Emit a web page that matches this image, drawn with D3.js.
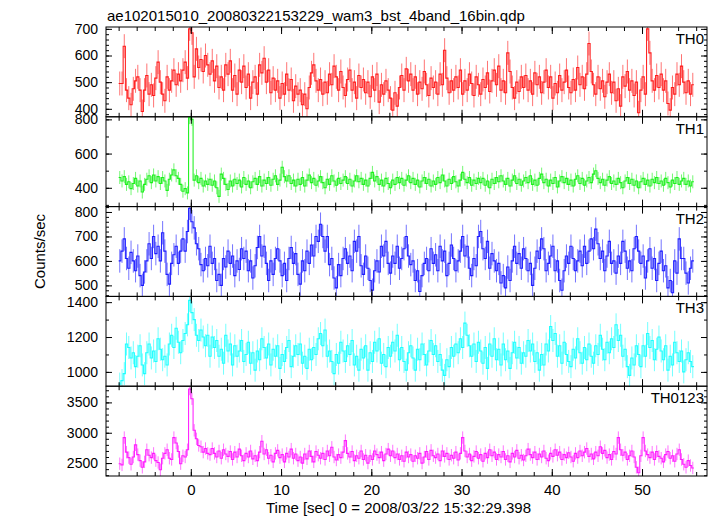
<!DOCTYPE html>
<html><head><meta charset="utf-8">
<script src="https://cdn.jsdelivr.net/npm/d3@7/dist/d3.min.js"></script>
<style>body{margin:0;background:#fff} text{font-family:"Liberation Sans",Arial,Helvetica,sans-serif;fill:#000}</style>
</head><body><svg id="c" width="717" height="516"></svg>
<script>
const titleText = "ae102015010_20080322153229_wam3_bst_4band_16bin.qdp";
const xTitle = "Time [sec] 0 = 2008/03/22 15:32:29.398";
const yTitle = "Counts/sec";
const panelNames = ["TH0", "TH1", "TH2", "TH3", "TH0123"];
const panelColors = ["#ff0000", "#00ee00", "#0000ff", "#00ffff", "#ff00ff"];
const tStart = -7.875, binWidth = 0.25;
const xTickValues = [0, 10, 20, 30, 40, 50];

const th0 = [
495,495,635,470,440,415,475,505,520,470,
390,470,525,455,490,450,515,575,500,455,
430,520,470,505,545,490,530,505,545,575,
515,700,685,520,625,555,585,540,600,565,
530,580,505,560,480,520,470,565,530,580,
470,525,455,545,500,560,480,530,440,500,
520,455,565,535,590,500,545,460,515,470,
505,440,495,455,530,470,510,430,485,455,
470,415,455,400,480,535,565,505,470,510,
455,500,460,530,490,560,520,470,540,480,
450,510,545,470,500,440,525,480,510,460,
500,445,520,470,530,425,490,455,505,470,
440,395,460,410,480,525,470,550,505,530,
470,520,455,500,475,540,490,450,515,480,
500,455,530,490,620,515,460,505,470,520,
480,545,455,505,470,530,495,450,520,490,
455,510,480,535,465,505,545,490,560,470,
505,460,610,540,480,440,500,465,520,480,
525,470,505,455,535,490,520,460,500,545,
480,520,440,495,460,525,470,500,545,480,
460,510,470,555,490,520,475,530,645,540,
490,455,520,475,505,445,500,530,460,500,
430,475,410,520,485,540,470,505,450,500,
385,470,520,455,700,610,505,470,525,480,
530,470,505,420,395,480,455,530,490,560,
500,460,505,455,490];

const th1 = [
460,440,465,420,435,395,425,455,410,440,
375,420,450,470,430,475,440,465,425,460,
440,385,450,475,505,470,455,420,380,395,
370,810,800,445,470,430,455,410,440,420,
450,415,440,400,350,480,455,420,390,440,
410,450,425,445,405,460,420,440,400,435,
455,420,465,410,445,425,460,415,450,470,
420,445,520,465,440,470,425,445,410,450,
420,460,410,445,475,430,455,415,440,465,
430,400,450,420,470,440,415,455,425,445,
465,425,450,410,440,470,435,455,420,445,
410,455,490,440,465,420,445,410,455,425,
400,445,420,460,430,455,415,445,470,430,
455,420,445,405,440,460,425,450,410,440,
420,460,430,475,440,410,450,425,465,435,
410,445,490,450,430,460,415,445,425,455,
430,455,415,440,400,450,425,460,435,470,
440,420,455,410,445,470,425,450,415,440,
460,430,470,420,445,415,455,480,430,450,
410,445,425,460,405,440,465,430,455,420,
445,410,450,470,425,455,415,440,460,430,
480,500,455,430,450,415,445,465,425,440,
420,455,430,400,440,460,425,450,415,440,
400,435,455,420,445,410,450,430,460,425,
440,415,455,430,405,445,425,460,420,440,
455,420,440,410,435];

const th2 = [
600,640,690,610,570,635,600,560,620,540,
500,555,600,670,610,700,630,660,600,715,
640,545,505,590,625,660,590,640,690,640,
720,815,760,735,670,650,585,560,610,580,
660,590,610,520,545,500,610,575,640,590,
620,540,600,565,650,610,640,560,600,530,
580,655,700,620,660,590,520,600,545,610,
650,600,540,590,520,610,655,590,630,545,
505,600,560,640,590,665,620,700,680,750,
700,640,700,585,610,530,490,585,540,610,
650,590,620,560,680,640,700,580,545,620,
570,520,480,560,600,555,660,620,680,590,
550,620,590,660,570,610,650,700,620,585,
600,520,560,475,540,590,610,560,650,590,
625,560,660,600,640,540,590,665,610,560,
600,640,700,620,660,570,540,610,580,700,
720,650,610,680,570,630,600,560,590,510,
540,490,575,520,600,660,590,630,570,650,
610,560,590,500,570,640,610,690,650,560,
590,620,660,560,600,520,480,560,620,590,
660,610,560,600,640,580,660,590,640,690,
650,730,670,610,640,560,620,680,590,600,
550,620,590,680,640,570,600,560,650,700,
640,590,620,530,600,650,570,610,520,590,
640,560,580,490,520,470,600,550,690,610,
610,550,510,570,600];

const th3 = [
930,950,990,1160,1140,1080,1110,1030,1090,1150,
1040,990,1110,1160,1080,1120,1060,1190,1130,1070,
1090,1040,1160,1210,1140,1250,1170,1110,1180,1220,
1270,1410,1340,1300,1210,1180,1240,1200,1150,1210,
1090,1200,1140,1180,1090,1130,1050,1210,1120,1160,
1040,1150,1090,1120,1180,1060,1100,1170,1050,1110,
1010,1120,1070,1190,1140,1080,1160,1040,1130,1090,
1150,1020,1100,1060,1140,1180,1030,1090,1150,1100,
1160,1050,1090,1020,1130,1070,1140,1100,1190,1220,
1150,1240,1090,1120,1060,990,1100,1050,1170,1120,
1060,1150,1100,1180,1040,1090,1010,1130,1080,1150,
1010,1110,1060,1170,1120,1190,1050,1100,1030,1140,
1090,1170,1120,1210,1070,1140,1060,1010,1110,1150,
1080,1010,1130,1070,1160,1100,1040,1120,1180,1100,
1150,1060,1100,1010,980,1070,1030,1140,1090,1160,
1110,1190,1140,1280,1210,1150,1090,1160,1060,1170,
1120,1050,1140,1020,1160,1090,1190,1070,1130,1040,
1160,1070,1120,1020,1110,1170,1080,1140,1050,1110,
1090,1180,1120,1160,1060,1110,1010,1100,1040,1160,
1120,1260,1180,1220,1090,1150,1050,1170,1100,1060,
1030,1130,1080,1190,1110,1050,1140,1070,1160,1090,
1050,1150,1100,1210,1130,1070,1170,1110,1190,1140,
1270,1180,1210,1090,1130,1030,980,1080,1040,1150,
1100,1030,1150,1090,1220,1140,1180,1070,1130,1200,
1120,1070,1150,1010,1090,1040,1170,1110,1060,1120,
1000,1070,1110,1060,1030];

const th0123 = [
2490,2470,2920,2680,2590,2480,2600,2800,2640,2540,
2430,2520,2720,2630,2590,2660,2540,2510,2390,2580,
2660,2720,2580,2560,2920,2830,2690,2490,2620,2600,
2720,3720,3560,3040,2900,2790,2770,2680,2740,2660,
2640,2740,2660,2600,2700,2580,2720,2650,2610,2690,
2560,2680,2600,2730,2620,2540,2660,2600,2700,2570,
2620,2540,2680,2860,2650,2720,2580,2630,2520,2660,
2710,2590,2640,2520,2660,2600,2730,2580,2650,2540,
2600,2500,2650,2570,2700,2610,2520,2690,2630,2580,
2660,2560,2700,2620,2760,2600,2550,2640,2590,2680,
2870,2660,2600,2690,2540,2620,2580,2700,2560,2630,
2500,2620,2560,2700,2640,2590,2680,2540,2650,2730,
2620,2700,2590,2650,2560,2620,2530,2680,2600,2640,
2530,2620,2580,2660,2500,2600,2690,2560,2710,2620,
2590,2650,2540,2700,2610,2660,2560,2630,2580,2680,
2550,2660,2920,2700,2600,2650,2540,2610,2690,2580,
2640,2530,2660,2590,2720,2620,2680,2560,2640,2600,
2690,2560,2620,2520,2660,2600,2710,2580,2630,2550,
2620,2730,2640,2590,2680,2560,2650,2600,2700,2580,
2540,2660,2610,2720,2630,2680,2560,2640,2590,2670,
2600,2530,2660,2590,2700,2620,2680,2740,2610,2650,
2570,2680,2620,2770,2660,2710,2590,2640,2560,2690,
2650,2920,2720,2630,2680,2560,2620,2700,2600,2430,
2340,2620,2920,2700,2640,2590,2680,2560,2690,2610,
2580,2520,2640,2690,2580,2620,2530,2650,2720,2560,
2480,2430,2540,2460,2420];

const seriesValues = [th0, th1, th2, th3, th0123];
const errors = [45, 38, 48, 66, 102];
const yDomains = [[370, 707], [290, 815], [455, 822], [918, 1433], [2287, 3767]];
const yMajorStep = [100, 200, 100, 200, 500];
const yMinorStep = [20, 100, 20, 100, 100];

const svg = d3.select("#c");
const pLeft = 106, pRight = 707, pTop = 27, pBottom = 476;
const nP = seriesValues.length;
const ph = (pBottom - pTop) / nP;
const x = d3.scaleLinear().domain([-9.4, 57.2]).range([pLeft, pRight]);

svg.append("text").attr("x", 107).attr("y", 21).attr("font-size", 15).text(titleText);

const defs = svg.append("defs");
seriesValues.forEach((vals, p) => {
  const y0 = pTop + p * ph, y1 = y0 + ph;
  const y = d3.scaleLinear().domain(yDomains[p]).range([y1, y0]);
  const g = svg.append("g");
  defs.append("clipPath").attr("id", "clip" + p).append("rect")
    .attr("x", pLeft).attr("y", y0).attr("width", pRight - pLeft).attr("height", ph);
  const dg = g.append("g").attr("clip-path", `url(#clip${p})`);
  const col = panelColors[p];
  const err = errors[p];
  dg.selectAll("line.err").data(vals).join("line")
    .attr("x1", (d, i) => x(tStart + i * binWidth)).attr("x2", (d, i) => x(tStart + i * binWidth))
    .attr("y1", d => y(d - err)).attr("y2", d => y(d + err))
    .attr("stroke", col).attr("stroke-opacity", 0.55).attr("stroke-width", 1);
  const pts = vals.map((d, i) => [tStart + i * binWidth - binWidth / 2, d]);
  pts.push([tStart + (vals.length - 1) * binWidth + binWidth / 2, vals[vals.length - 1]]);
  const line = d3.line().x(d => x(d[0])).y(d => y(d[1])).curve(d3.curveStepAfter);
  dg.append("path").attr("d", line(pts)).attr("fill", "none")
    .attr("stroke", col).attr("stroke-width", 1.1).attr("stroke-opacity", 0.85);

  g.append("rect").attr("x", pLeft).attr("y", y0).attr("width", pRight - pLeft).attr("height", ph)
    .attr("fill", "none").attr("stroke", "#000").attr("stroke-width", 1);

  const [dmin, dmax] = yDomains[p];
  const minorT = d3.range(Math.ceil(dmin / yMinorStep[p]) * yMinorStep[p], dmax + 0.001, yMinorStep[p]);
  const majorT = minorT.filter(v => v % yMajorStep[p] === 0);
  const axL = d3.axisLeft(y).tickValues(majorT).tickSize(-6).tickPadding(8).tickFormat(d3.format("d"));
  const gl = g.append("g").attr("transform", `translate(${pLeft},0)`).call(axL);
  gl.select(".domain").remove();
  gl.selectAll("text").attr("font-size", 14).attr("font-family", "Liberation Sans, Arial, sans-serif").attr("x", -8);
  g.append("g").attr("transform", `translate(${pLeft},0)`)
    .call(d3.axisLeft(y).tickValues(minorT).tickSize(-3).tickFormat(""))
    .select(".domain").remove();
  g.append("g").attr("transform", `translate(${pRight},0)`)
    .call(d3.axisRight(y).tickValues(majorT).tickSize(-6).tickFormat(""))
    .select(".domain").remove();
  g.append("g").attr("transform", `translate(${pRight},0)`)
    .call(d3.axisRight(y).tickValues(minorT).tickSize(-3).tickFormat(""))
    .select(".domain").remove();

  const xMinor = d3.range(-8, 57, 2);
  [[y0, d3.axisTop], [y1, d3.axisBottom]].forEach(([yy, axf]) => {
    g.append("g").attr("transform", `translate(0,${yy})`)
      .call(axf(x).tickValues(xTickValues).tickSize(-7).tickFormat("")).select(".domain").remove();
    g.append("g").attr("transform", `translate(0,${yy})`)
      .call(axf(x).tickValues(xMinor).tickSize(-4).tickFormat("")).select(".domain").remove();
  });

  g.append("text").attr("x", 704).attr("y", y0 + 17).attr("text-anchor", "end")
    .attr("font-size", 15).text(panelNames[p]);

  if (p === nP - 1) {
    const ax = svg.append("g").attr("transform", `translate(0,${y1})`)
      .call(d3.axisBottom(x).tickValues(xTickValues).tickSize(0).tickPadding(8).tickFormat(d3.format("d")));
    ax.select(".domain").remove();
    ax.selectAll("text").attr("font-size", 15).attr("font-family", "Liberation Sans, Arial, sans-serif");
  }
});
svg.selectAll(".tick line").attr("stroke", "#000");

svg.append("text").attr("x", (pLeft + pRight) / 2 - 8).attr("y", 513).attr("text-anchor", "middle")
  .attr("font-size", 15).text(xTitle);
svg.append("text").attr("transform", `translate(45,${(pTop + pBottom) / 2}) rotate(-90)`)
  .attr("text-anchor", "middle").attr("font-size", 15).text(yTitle);
</script></body></html>
